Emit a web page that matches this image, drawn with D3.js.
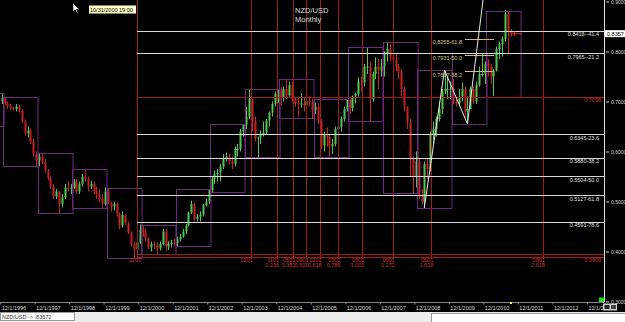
<!DOCTYPE html>
<html>
<head>
<meta charset="utf-8">
<script src="https://cdn.jsdelivr.net/npm/d3@7"></script>
<style>
body { margin: 0; background: #000; }
svg { display: block; }
text { font-family: "Liberation Sans", Arial, sans-serif; }
</style>
</head>
<body>
<svg width="625" height="322"></svg>
<script>
// monthly NZD/USD bars, first bar = Dec 1996
var firstMonth = new Date(1996, 11, 1);
var opens = [.7000,
  .7070,.6960,.6900,.6880,.6850,.6900,.6820,.6600,.6360,.6420,.6200,.5950,
  .5820,.5900,.5780,.5620,.5460,.5300,.5100,.5200,.4950,.5080,.5280,.5250,
  .5270,.5400,.5200,.5350,.5500,.5450,.5300,.5350,.5200,.5150,.5050,.4950,
  .5200,.4980,.4900,.4950,.4750,.4520,.4730,.4560,.4380,.4150,.4040,.4180,
  .4440,.4380,.4260,.4080,.4150,.4130,.4060,.4150,.4400,.4100,.4150,.4180,
  .4170,.4240,.4300,.4400,.4520,.4780,.4950,.4650,.4700,.4740,.4920,.5000,
  .5230,.5450,.5550,.5580,.5700,.5850,.5900,.5800,.5750,.6050,.6050,.6400,
  .6530,.6700,.7050,.6600,.6260,.6280,.6350,.6380,.6620,.6780,.6950,.7150,
  .7200,.7070,.7250,.7120,.7330,.7050,.6970,.6950,.6960,.6920,.7010,.7000,
  .6830,.6900,.6600,.6120,.6350,.6300,.6100,.6150,.6450,.6500,.6650,.6850,
  .7030,.6870,.7100,.7150,.7400,.7380,.7700,.7700,.7050,.7550,.7700,.7620,
  .7700,.7950,.8050,.7900,.7830,.7700,.7600,.7250,.6900,.6600,.5850,.5500,
  .5800,.5100,.5000,.5750,.5650,.6350,.6450,.6650,.6850,.7200,.7250,.7250,
  .7250,.7000,.6960,.7100,.7250,.6800,.6850,.7250,.7000,.7330,.7550,.7550,
  .7750,.7700,.7500,.7620,.8050,.8150,.8250,.8750,.8400];
var highs = [.7170,
  .7093,.7000,.6950,.6900,.6950,.6930,.6850,.6640,.6500,.6460,.6250,.6000,
  .5970,.5950,.5850,.5650,.5500,.5350,.5250,.5210,.5150,.5350,.5400,.5350,
  .5450,.5450,.5400,.5550,.5654,.5500,.5420,.5400,.5300,.5250,.5150,.5280,
  .5270,.5000,.5000,.4980,.4780,.4800,.4750,.4600,.4400,.4200,.4250,.4540,
  .4530,.4450,.4280,.4200,.4200,.4180,.4200,.4450,.4450,.4200,.4230,.4250,
  .4300,.4350,.4450,.4550,.4800,.5020,.4980,.4750,.4800,.4950,.5050,.5250,
  .5500,.5620,.5650,.5750,.5950,.5980,.5950,.5900,.6100,.6150,.6450,.6550,
  .6890,.7250,.7060,.6700,.6300,.6420,.6600,.6650,.6800,.7000,.7200,.7250,
  .7290,.7300,.7450,.7400,.7400,.7100,.7100,.7170,.7100,.7150,.7100,.7050,
  .6980,.6960,.6650,.6400,.6480,.6350,.6250,.6500,.6550,.6700,.6900,.7050,
  .7050,.7120,.7180,.7480,.7500,.7750,.8090,.7800,.7600,.7880,.7850,.7850,
  .8000,.8190,.8150,.8000,.7950,.7750,.7650,.7300,.6900,.6650,.5900,.6000,
  .5850,.5250,.5800,.5850,.6400,.6600,.6700,.7000,.7250,.7630,.7500,.7400,
  .7450,.7050,.7250,.7380,.7300,.7100,.7300,.7300,.7400,.7700,.7970,.7800,
  .7850,.7750,.7650,.8100,.8200,.8300,.8830,.8800,.8450];
var lows = [.6950,
  .6930,.6850,.6830,.6820,.6800,.6780,.6570,.6320,.6280,.6150,.5900,.5712,
  .5700,.5750,.5580,.5420,.5250,.5050,.5050,.4770,.4880,.5050,.5200,.5150,
  .5250,.5150,.5150,.5300,.5400,.5200,.5250,.5150,.5050,.4980,.4870,.4920,
  .4950,.4800,.4820,.4700,.4450,.4480,.4530,.4350,.4100,.3876,.3950,.4150,
  .4300,.4200,.4050,.4000,.4050,.3950,.4020,.4120,.4000,.4030,.4080,.4100,
  .4110,.4200,.4280,.4350,.4500,.4750,.4600,.4600,.4600,.4700,.4900,.4950,
  .5190,.5350,.5400,.5400,.5650,.5800,.5750,.5650,.5700,.5900,.6000,.6300,
  .6450,.6650,.6400,.6200,.5890,.6150,.6300,.6350,.6500,.6700,.6900,.6980,
  .6920,.7000,.7050,.7100,.7000,.6900,.6700,.6880,.6800,.6930,.6900,.6670,
  .6750,.6550,.6050,.6000,.6100,.5890,.5950,.6100,.6400,.6400,.6600,.6800,
  .6750,.6800,.6960,.7100,.7200,.7300,.7550,.6610,.7000,.7450,.7250,.7500,
  .7500,.7800,.7800,.7750,.7600,.7450,.7100,.6800,.6450,.5500,.5170,.5280,
  .5050,.4950,.4870,.5450,.5600,.6150,.6300,.6600,.6750,.7150,.7050,.7050,
  .6950,.6900,.6900,.7000,.6650,.6550,.6850,.6950,.6950,.7300,.7500,.7350,
  .7500,.7350,.7110,.7600,.7850,.7900,.8200,.7950,.8300];
var closes = [.7070,
  .6960,.6900,.6880,.6850,.6900,.6820,.6600,.6360,.6420,.6200,.5950,.5820,
  .5900,.5780,.5620,.5460,.5300,.5100,.5200,.4950,.5080,.5280,.5250,.5270,
  .5400,.5200,.5350,.5500,.5450,.5300,.5350,.5200,.5150,.5050,.4950,.5200,
  .4980,.4900,.4950,.4750,.4520,.4730,.4560,.4380,.4150,.4040,.4180,.4440,
  .4380,.4260,.4080,.4150,.4130,.4060,.4150,.4400,.4100,.4150,.4180,.4170,
  .4240,.4300,.4400,.4520,.4780,.4950,.4650,.4700,.4740,.4920,.5000,.5230,
  .5450,.5550,.5580,.5700,.5850,.5900,.5800,.5750,.6050,.6050,.6400,.6530,
  .6700,.7050,.6600,.6260,.6280,.6350,.6380,.6620,.6780,.6950,.7150,.7200,
  .7070,.7250,.7120,.7330,.7050,.6970,.6950,.6960,.6920,.7010,.7000,.6830,
  .6900,.6600,.6120,.6350,.6300,.6100,.6150,.6450,.6500,.6650,.6850,.7030,
  .6870,.7100,.7150,.7400,.7380,.7700,.7700,.7050,.7550,.7700,.7620,.7700,
  .7950,.8050,.7900,.7830,.7700,.7600,.7250,.6900,.6600,.5850,.5500,.5800,
  .5100,.5000,.5750,.5650,.6350,.6450,.6650,.6850,.7200,.7250,.7250,.7250,
  .7000,.6960,.7100,.7250,.6800,.6850,.7250,.7000,.7330,.7550,.7550,.7750,
  .7700,.7500,.7620,.8050,.8150,.8250,.8750,.8400,.8357];

// yearly range boxes
var boxYears = [1996,1997,1998,1999,2000,2001,2002,2003,2004,2005,2006,2007,2008,2009,2010,2011];
var boxHigh  = [.717,.709,.597,.565,.527,.453,.525,.655,.725,.745,.705,.809,.819,.763,.797,.881];
var boxLow   = [.651,.571,.477,.487,.387,.395,.411,.519,.589,.667,.589,.661,.517,.487,.655,.709];

// fibonacci retracement (white), from the 2000 low
var fibStart = new Date(2000, 10, 18);
var fibLevels = [0.8418, 0.7965, 0.6345, 0.5880, 0.5504, 0.5127, 0.4591];
var fibLabels = ["0.8418--41.4", "0.7965--21.2", "0.6345-23.6", "0.5880-38.2", "0.5504-50.0", "0.5127-61.8", "0.4591-78.6"];
var redLevels = [0.7098, 0.3945, 0.3897];
var redLabels = ["0.7098", "", "0.3909"];

// fibonacci time zones
var fibTimeStart = new Date(2004, 2, 5), fibTimeOne = new Date(2007, 4, 30);
var fibTimeRatios = [0, 0.236, 0.382, 0.5, 0.618, 0.786, 1, 1.272, 1.618, 2.618];
var fibTimeDates = ["0201", "1101", "0501", "0901", "0201", "0501", "0501", "0901", "0501", "0801"];
var fibTimeRatioText = ["", "0.236", "0.382", "0.500", "0.618", "0.786", "1.000", "1.272", "1.618", "2.618"];

// ABC swing + extension (khaki)
var swingDates = [new Date(2009, 2, 16), new Date(2009, 9, 16), new Date(2010, 5, 16), new Date(2010, 10, 28)];
var swingValues = [0.4870, 0.7630, 0.6550, 0.9030];
var extStart = new Date(2010, 4, 21), extEnd = new Date(2011, 2, 24);
var extLevels = [0.8255, 0.7931, 0.7607];
var extLabels = ["0.8255-61.8", "0.7931-50.0", "0.7607-38.2"];

var yTicks = [0.3, 0.4, 0.5, 0.6, 0.7, 0.8, 0.9];
var axisYears = d3.range(1996, 2014);
var lastPrice = 0.8357;

var svg = d3.select("svg"),
    W = 604, H = 302;

var x = d3.scaleTime().domain([new Date(1996, 11, 1), new Date(2013, 11, 1)]).range([0.2, 586.9]),
    y = d3.scaleLinear().domain([0.3, 0.9]).range([301.5, 1.5]);

svg.append("rect").attr("width", 625).attr("height", 322).attr("fill", "#000");

svg.append("defs").append("clipPath").attr("id", "plot")
  .append("rect").attr("width", W).attr("height", H);

var plot = svg.append("g").attr("clip-path", "url(#plot)");

var candles = opens.map(function(o, i) {
  var d = d3.timeMonth.offset(firstMonth, i);
  var mid = new Date((+d + +d3.timeMonth.offset(d, 1)) / 2);
  return {date: d, mid: mid, o: o, h: highs[i], l: lows[i], c: closes[i]};
});

var up = "#4ec84e", down = "#c82222";

var bars = plot.append("g").selectAll("g").data(candles).enter().append("g");
bars.append("rect")
  .attr("x", function(d) { return Math.round(x(d.mid)); })
  .attr("width", 1)
  .attr("y", function(d) { return y(d.h); })
  .attr("height", function(d) { return y(d.l) - y(d.h); })
  .attr("fill", function(d) { return d.c >= d.o ? up : down; });
bars.append("rect")
  .attr("x", function(d) { return Math.round(x(d.mid)) - 0.5; })
  .attr("width", 2)
  .attr("y", function(d) { return y(Math.max(d.o, d.c)); })
  .attr("height", function(d) { return Math.max(1, Math.abs(y(d.o) - y(d.c))); })
  .attr("fill", function(d) { return d.c >= d.o ? up : down; });

// yearly boxes
plot.append("g").selectAll("rect").data(boxYears).enter().append("rect")
  .attr("x", function(d) { return Math.round(x(new Date(d, 0, 1))) + 0.5; })
  .attr("width", function(d) { return x(new Date(d + 1, 0, 1)) - x(new Date(d, 0, 1)); })
  .attr("y", function(d, i) { return Math.round(y(boxHigh[i])) + 0.5; })
  .attr("height", function(d, i) { return y(boxLow[i]) - y(boxHigh[i]); })
  .attr("fill", "none")
  .attr("stroke", "#6c2a7e");

// fibonacci time zones
var ft0 = x(fibTimeStart), ftU = x(fibTimeOne) - ft0;
var ftX = fibTimeRatios.map(function(r) { return ft0 + r * ftU; });
var timeLines = plot.append("g");
timeLines.selectAll("line").data([x(fibStart)].concat(ftX)).enter().append("line")
  .attr("x1", function(d) { return Math.round(d) + 0.5; })
  .attr("x2", function(d) { return Math.round(d) + 0.5; })
  .attr("y1", 0).attr("y2", 259)
  .attr("stroke", "#9a1c1c");
timeLines.selectAll("text.d").data(ftX).enter().append("text")
  .attr("class", "d")
  .attr("x", function(d) { return d + 2; })
  .attr("y", 261.5)
  .attr("text-anchor", "end")
  .attr("font-size", 5.5)
  .attr("fill", "#d03030")
  .text(function(d, i) { return fibTimeDates[i]; });
timeLines.selectAll("text.r").data(ftX).enter().append("text")
  .attr("class", "r")
  .attr("x", function(d) { return d + 2; })
  .attr("y", 267)
  .attr("text-anchor", "end")
  .attr("font-size", 5.5)
  .attr("fill", "#d03030")
  .text(function(d, i) { return fibTimeRatioText[i]; });
timeLines.append("text")
  .attr("x", x(fibStart) + 4).attr("y", 262)
  .attr("text-anchor", "end").attr("font-size", 5.5).attr("fill", "#d03030")
  .text("1101");

// horizontal levels
var fx = x(fibStart);
plot.append("g").selectAll("line").data(redLevels).enter().append("line")
  .attr("x1", fx).attr("x2", W)
  .attr("y1", function(d) { return Math.round(y(d)) + 0.5; })
  .attr("y2", function(d) { return Math.round(y(d)) + 0.5; })
  .attr("stroke", "#9a1c1c");
plot.append("g").selectAll("text").data(redLevels).enter().append("text")
  .attr("x", 601)
  .attr("y", function(d) { return y(d) + 5.5; })
  .attr("text-anchor", "end").attr("font-size", 5.5).attr("fill", "#d03030")
  .text(function(d, i) { return redLabels[i]; });

plot.append("g").selectAll("line").data(fibLevels).enter().append("line")
  .attr("x1", fx).attr("x2", W)
  .attr("y1", function(d) { return Math.round(y(d)) + 0.5; })
  .attr("y2", function(d) { return Math.round(y(d)) + 0.5; })
  .attr("stroke", "#d8d8d8");
plot.append("g").selectAll("text").data(fibLevels).enter().append("text")
  .attr("x", 599)
  .attr("y", function(d) { return y(d) + 5.5; })
  .attr("text-anchor", "end").attr("font-size", 5.5).attr("fill", "#e0e0e0")
  .text(function(d, i) { return fibLabels[i]; });

// extension levels
plot.append("g").selectAll("line").data(extLevels).enter().append("line")
  .attr("x1", x(extStart)).attr("x2", x(extEnd))
  .attr("y1", function(d) { return Math.round(y(d)) + 0.5; })
  .attr("y2", function(d) { return Math.round(y(d)) + 0.5; })
  .attr("stroke", "#c8bc78");
plot.append("g").selectAll("text").data(extLevels).enter().append("text")
  .attr("x", x(extStart) - 3)
  .attr("y", function(d) { return y(d) + 5.5; })
  .attr("text-anchor", "end").attr("font-size", 5.5).attr("fill", "#d8cc80")
  .text(function(d, i) { return extLabels[i]; });

// swing lines
var swing = d3.line()
  .x(function(d) { return x(d); })
  .y(function(d, i) { return y(swingValues[i]); });
plot.append("path")
  .datum(swingDates)
  .attr("d", swing)
  .attr("fill", "none")
  .attr("stroke", "#e8e8e8");

// last price marker
var lp = y(lastPrice);
plot.append("path")
  .attr("d", "M" + (x(new Date(2011, 8, 20)) + 1) + "," + lp + "l3,-2.5v2h7v1h-7v2z")
  .attr("fill", "#d02020");

// right axis
svg.append("line")
  .attr("x1", W + 0.5).attr("x2", W + 0.5).attr("y1", 0).attr("y2", H)
  .attr("stroke", "#e0e0e0");
var yAxis = svg.append("g")
  .attr("transform", "translate(" + (W + 2) + ",0)")
  .call(d3.axisRight(y).tickValues(yTicks).tickFormat(d3.format(".4f")).tickSize(3).tickPadding(2));
yAxis.select(".domain").remove();
yAxis.selectAll("line").attr("stroke", "#ccc");
yAxis.selectAll("text").attr("fill", "#ddd").attr("font-size", 5).attr("font-family", "Liberation Sans, Arial, sans-serif");

svg.append("rect").attr("x", W + 1).attr("y", lp - 3.5).attr("width", 21).attr("height", 7).attr("fill", "#fff");
svg.append("text").attr("x", W + 3).attr("y", lp + 2)
  .attr("font-size", 5.5).attr("fill", "#000").text(d3.format(".4f")(lastPrice));

// bottom axis
var xAxis = svg.append("g")
  .attr("transform", "translate(0," + (H + 0.5) + ")")
  .call(d3.axisBottom(x)
    .tickValues(axisYears.map(function(yr) { return new Date(yr, 11, 1); }))
    .tickFormat(function(d) { return "12/1/" + d.getFullYear(); })
    .tickSize(2));
xAxis.select(".domain").attr("stroke", "#888").attr("d", "M0,0H" + W);
xAxis.selectAll("line").attr("stroke", "#888");
xAxis.selectAll("text")
  .attr("text-anchor", "start").attr("x", 1).attr("y", 7.5).attr("dy", 0)
  .attr("fill", "#ddd").attr("font-size", 5.5).attr("font-family", "Liberation Sans, Arial, sans-serif");

svg.append("rect").attr("x", W - 1).attr("y", 303.5).attr("width", 14).attr("height", 7).attr("fill", "#cfcfcf");
svg.append("rect").attr("x", W + 0.5).attr("y", 305).attr("width", 5).attr("height", 4).attr("fill", "#222");
svg.append("rect").attr("x", W + 7).attr("y", 305).attr("width", 5).attr("height", 4).attr("fill", "#444");
svg.append("rect").attr("x", 599).attr("y", 297.5).attr("width", 5).attr("height", 4.5).attr("fill", "#22dd22");
svg.append("rect").attr("x", 510).attr("y", 302).attr("width", 2).attr("height", 2).attr("fill", "#ffff66");

// status strip
svg.append("rect").attr("x", 0).attr("y", 312).attr("width", 625).attr("height", 10).attr("fill", "#ececec");
svg.append("rect").attr("x", 0.5).attr("y", 312.5).attr("width", 74).attr("height", 8).attr("fill", "#fff").attr("stroke", "#999");
svg.append("text").attr("x", 2).attr("y", 319).attr("font-size", 5.5).attr("fill", "#333").text("NZD/USD -> .83572");
svg.append("rect").attr("x", 431.5).attr("y", 313.5).attr("width", 194).attr("height", 9).attr("fill", "#fff").attr("stroke", "#999");

// title + crosshair tooltip
svg.append("text").attr("x", 295).attr("y", 13).attr("font-size", 7.5).attr("fill", "#ddd").text("NZD/USD");
svg.append("text").attr("x", 295).attr("y", 21.5).attr("font-size", 7.5).attr("fill", "#ddd").text("Monthly");
svg.append("rect").attr("x", 89).attr("y", 5.5).attr("width", 47).attr("height", 8).attr("fill", "#ffffc8");
svg.append("text").attr("x", 90).attr("y", 12).attr("font-size", 5.5).attr("fill", "#000").text("10/31/2000 19:00");
svg.append("path")
  .attr("d", "M73,3v9l2.2,-2.2l1.8,3.8l1.2,-0.6l-1.8,-3.6h3z")
  .attr("fill", "#fff").attr("stroke", "#000").attr("stroke-width", 0.6);
</script>
</body>
</html>
